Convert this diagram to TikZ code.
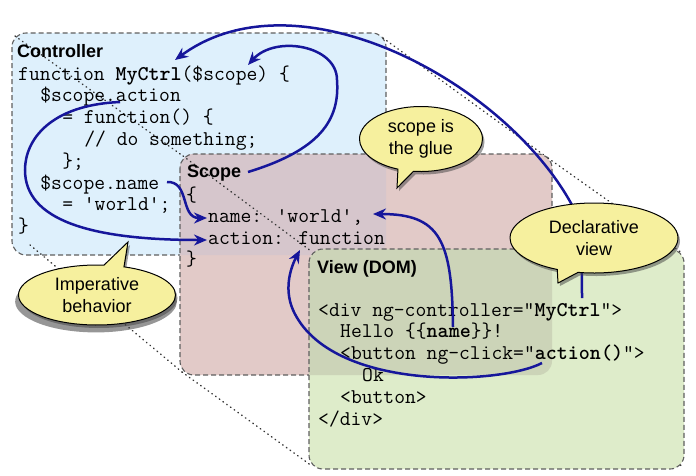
\documentclass[tikz,border=0pt]{standalone}
\usepackage{fontspec}
\setmainfont{Liberation Sans}
\usetikzlibrary{shapes.callouts,shadows,arrows.meta}

\definecolor{ctrlfill}{RGB}{222,240,252}
\definecolor{scopefill}{RGB}{226,202,200}
\definecolor{scopeover}{RGB}{214,198,204}
\definecolor{viewfill}{RGB}{222,236,202}
\definecolor{viewover}{RGB}{204,212,184}
\definecolor{edgegray}{RGB}{95,95,95}
\definecolor{linkblue}{RGB}{22,22,155}
\definecolor{bubblefill}{RGB}{246,240,158}

\newcommand{\sq}{\textquotesingle}
\newcommand{\dq}{\textquotedbl}

\tikzset{
  layerbox/.style={draw=edgegray, line width=1.1pt, dash pattern=on 5pt off 3pt, rounded corners=14pt},
  layerfill/.style={rounded corners=14pt},
  persp/.style={draw=black!80, line width=1.4pt, line cap=round, dash pattern=on 0.6pt off 4pt},
  link/.style={draw=linkblue, line width=2.5pt, -{Stealth[length=13pt,width=11pt]}},
  code/.style={font=\ttfamily\fontsize{21}{22}\selectfont, anchor=base west, inner sep=0pt},
  heading/.style={font=\bfseries\fontsize{18}{21}\selectfont, anchor=base west, inner sep=0pt},
  bubble/.style={ellipse callout, draw=black, line width=1pt, fill=bubblefill,
    font=\fontsize{18}{22}\selectfont, align=center, inner sep=0pt,
    drop shadow={shadow xshift=2pt, shadow yshift=-3pt, opacity=0.5, fill=black!75}},
}

\begin{document}
\begin{tikzpicture}[x=1pt, y=-1pt]
\useasboundingbox (0,0) rectangle (696,475);

% corner points of the three layers
\coordinate (cTL) at (15,36);   \coordinate (cTR) at (383,38);  \coordinate (cBL) at (30,245);
\coordinate (sTL) at (183,156); \coordinate (sTR) at (548,158); \coordinate (sBL) at (182,372); \coordinate (sBR) at (549,372);
\coordinate (vTL) at (311,251); \coordinate (vTR) at (682,253); \coordinate (vBL) at (312,466); \coordinate (vBR) at (683,467);

% controller layer
\fill[ctrlfill, layerfill] (12,33) rectangle (386,255);
\draw[layerbox] (12,33) rectangle (386,255);
\draw[persp] (cTL) -- (sTL);
\draw[persp] (cTR) -- (sTR);
\draw[persp] (cBL) -- (sBL);

% scope layer
\fill[scopefill, layerfill] (180,154) rectangle (552,375);
\begin{scope}
  \clip[layerfill] (12,33) rectangle (386,255);
  \fill[scopeover, layerfill] (180,154) rectangle (552,375);
\end{scope}
\draw[layerbox] (180,154) rectangle (552,375);
\draw[persp] (sTL) -- (vTL);
\draw[persp] (sTR) -- (vTR);
\draw[persp] (sBL) -- (vBL);
\draw[persp] (sBR) -- (vBR);

% view layer
\fill[viewfill, layerfill] (309,249) rectangle (684,469);
\begin{scope}
  \clip[layerfill] (180,154) rectangle (552,375);
  \fill[viewover, layerfill] (309,249) rectangle (684,469);
\end{scope}
\draw[layerbox] (309,249) rectangle (684,469);

% controller code
\node[heading] (ctrlhead) at (17,57) {Controller};
\node[code] (c0) at (18,80)       {function \textbf{MyCtrl}(\$scope) \{};
\node[code] (c1) at (40.05,101.8) {\$scope.action};
\node[code] (c2) at (62.1,123.6)  {= function() \{};
\node[code] (c3) at (84.15,145.4) {// do something;};
\node[code] (c4) at (62.1,167.2)  {\};};
\node[code] (c5) at (40.05,189)   {\$scope.name};
\node[code] (c6) at (62.1,210.8)  {= \sq world\sq;};
\node[code] (c7) at (18,232.6)    {\}};

% scope code
\node[heading] (scopehead) at (187,177) {Scope};
\node[code] (s0) at (186,201)   {\{};
\node[code] (s1) at (208,222.5) {name: \sq world\sq,};
\node[code] (s2) at (208,244)   {action: function};
\node[code] (s3) at (186,265.5) {\}};

% view code
\node[heading] (viewhead) at (317,273) {View (DOM)};
\node[code] (v0) at (318,316)   {<div ng-controller=\dq\textbf{MyCtrl}\dq>};
\node[code] (v1) at (340,337.8) {Hello \{\{\textbf{name}\}\}!};
\node[code] (v2) at (340,359.6) {<button ng-click=\dq\textbf{action()}\dq>};
\node[code] (v3) at (362,381.4) {Ok};
\node[code] (v4) at (340,403.2) {<button>};
\node[code] (v5) at (318,425)   {</div>};

% bindings
\coordinate (a1s) at (582,298); \coordinate (a1e) at (175,60);
\coordinate (a2s) at (248,172); \coordinate (a2e) at (248,65);
\coordinate (a3s) at (120,102); \coordinate (a3e) at (207,240);
\coordinate (a4s) at (167,182); \coordinate (a4e) at (207,218);
\coordinate (a5s) at (453,327); \coordinate (a5e) at (373,214);
\coordinate (a6s) at (542,363); \coordinate (a6e) at (300,250);

\draw[link] (a1s) .. controls (582,260) and (581,223) .. (572,205)
                  .. controls (505,82) and (298,-30) .. (a1e);
\draw[link] (a2s) .. controls (320,150) and (340,120) .. (337,80)
                  .. controls (337,45) and (275,35) .. (a2e);
\draw[link] (a3s) .. controls (50,105) and (25,140) .. (25,170)
                  .. controls (25,220) and (90,240) .. (a3e);
\draw[link] (a4s) .. controls (190,181) and (180,218) .. (a4e);
\draw[link] (a5s) .. controls (452,240) and (440,214) .. (a5e);
\draw[link] (a6s) .. controls (500,385) and (330,392) .. (293,310)
                  .. controls (283,287) and (292,265) .. (a6e);

% callouts
\node[bubble, minimum width=123pt, minimum height=65pt,
      callout absolute pointer={(397,188)}] (glue) at (421,139) {scope is\\the glue};
\node[bubble, minimum width=168pt, minimum height=70pt,
      callout absolute pointer={(558,283)}] (decl) at (594,238) {Declarative\\view};
\node[bubble, minimum width=157pt, minimum height=60pt,
      drop shadow={shadow xshift=-1pt, shadow yshift=-6pt, shadow scale=1.03, opacity=0.55, fill=black!75},
      callout absolute pointer={(128,242)}] (imper) at (97,295) {Imperative\\behavior};
\end{tikzpicture}
\end{document}
